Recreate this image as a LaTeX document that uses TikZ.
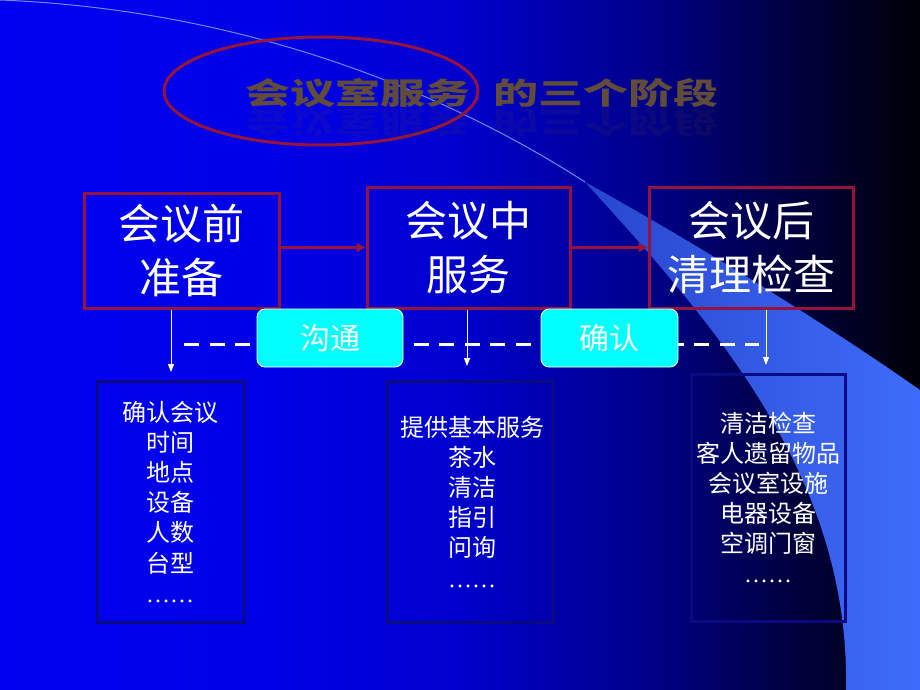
\documentclass[tikz,border=0pt]{standalone}
\usepackage{fontspec}
\setmainfont{Noto Sans CJK SC}
\newfontfamily\dotfont{Liberation Serif}
\usetikzlibrary{arrows.meta}

\definecolor{bgA}{RGB}{0,0,240}
\definecolor{bgB}{RGB}{0,0,230}
\definecolor{bgC}{RGB}{0,0,205}
\definecolor{bgD}{RGB}{0,0,140}
\definecolor{bgE}{RGB}{0,0,72}
\definecolor{bgF}{RGB}{0,0,6}
\definecolor{wedgeA}{RGB}{40,70,205}
\definecolor{wedgeB}{RGB}{62,108,250}
\definecolor{swoosh}{RGB}{110,140,255}
\definecolor{framered}{RGB}{150,20,60}
\definecolor{framenavy}{RGB}{10,10,130}
\definecolor{titlebrown}{RGB}{97,76,59}
\definecolor{linkcyan}{RGB}{0,255,255}

\pgfdeclarehorizontalshading{slidebg}{100bp}{color(0bp)=(bgA); color(25bp)=(bgA);
  color(40bp)=(bgB); color(50bp)=(bgC); color(60bp)=(bgD); color(67bp)=(bgE);
  color(75bp)=(bgF); color(100bp)=(bgF)}

\tikzset{
  titletext/.style={text=titlebrown, xscale=1.5, font=\fontsize{30}{30}\selectfont\bfseries},
  stage/.style={draw=framered, line width=3pt, inner sep=0pt, text=white, align=center,
    font=\fontsize{42}{54}\selectfont},
  link/.style={draw=white, line width=0.8pt, fill=linkcyan, rounded corners=8pt, inner sep=0pt,
    text=white, font=\fontsize{30}{30}\selectfont},
  listbox/.style={draw=framenavy, line width=3pt, inner sep=0pt},
  item/.style={text=white, anchor=base, inner sep=0pt, font=\fontsize{24}{30}\selectfont},
  flow/.style={framered, line width=3pt, -{Triangle[length=9pt,width=9pt]}},
  drop/.style={white, line width=1pt, -{Triangle[length=8pt,width=6pt]}},
  dashline/.style={white, line width=3pt, dash pattern=on 15pt off 10.5pt},
}

\begin{document}
\begin{tikzpicture}[x=1pt,y=-1pt]
        \useasboundingbox (0,0) rectangle (920,690);

        % Background
        \shade[shading=slidebg] (0,0) rectangle (920,690);
        \draw[swoosh, line width=1pt] (0,0) .. controls (250,10) and (450,95) .. (585,182);
        \shade[left color=wedgeA, right color=wedgeB]
                (585,182) .. controls (690,240) and (820,320) .. (920,390) % upper edge
                -- (920,690) -- (846,690)
                .. controls (850,480) and (720,330) .. (585,182) -- cycle; % lower edge

        % Title
        \draw[framered, line width=3pt] (321,91) ellipse (157 and 54);
        \node[titletext] (title) at (482,93) {会议室服务\hspace{0.5em}的三个阶段};
        \node[titletext, yscale=-1, opacity=0.13] (titlemirror) at (482,123) {会议室服务\hspace{0.5em}的三个阶段};

        % Stages
        \node[stage, minimum width=195, minimum height=115] (pre)  at (181.5,250.5) {会议前\\准备};
        \node[stage, minimum width=203, minimum height=121] (mid)  at (468.5,247.5) {会议中\\服务};
        \node[stage, minimum width=204, minimum height=121] (post) at (751,247.5)   {会议后\\清理检查};

        \draw[flow] (pre.east |- mid) -- (mid.west);
        \draw[flow] (mid.east) -- (post.west);

        % Dashed line
        \coordinate (dashL) at (184,344);
        \coordinate (dashR) at (759,344);
        \draw[dashline] (dashL) -- (dashR);

        % Drops
        \coordinate (dropA) at (171,372);
        \coordinate (dropB) at (467,366);
        \coordinate (dropC) at (766,365);
        \draw[drop] (pre.south -| dropA)  -- (dropA);
        \draw[drop] (mid.south -| dropB)  -- (dropB);
        \draw[drop] (post.south -| dropC) -- (dropC);

        % Links
        \node[link, minimum width=146, minimum height=58] (talk)    at (330,338)   {沟通};
        \node[link, minimum width=137, minimum height=58] (confirm) at (609.5,338) {确认};

        % Lists
        \node[listbox, minimum width=147, minimum height=241] (boxA) at (170.5,501.5) {};
        \node[listbox, minimum width=166, minimum height=241] (boxB) at (470,501.5)   {};
        \node[listbox, minimum width=154, minimum height=247] (boxC) at (768,497.5)   {};

        \foreach \t [count=\i from 0] in {确认会议,时间,地点,设备,人数,台型,{\dotfont ……}}
                \node[item] (itemA\i) at (170,421+30.2*\i) {\t};
        \foreach \t [count=\i from 0] in {提供基本服务,茶水,清洁,指引,问询,{\dotfont ……}}
                \node[item] (itemB\i) at (472,436+30.2*\i) {\t};
        \foreach \t [count=\i from 0] in {清洁检查,客人遗留物品,会议室设施,电器设备,空调门窗,{\dotfont ……}}
                \node[item] (itemC\i) at (768,432+30*\i) {\t};
\end{tikzpicture}
\end{document}
